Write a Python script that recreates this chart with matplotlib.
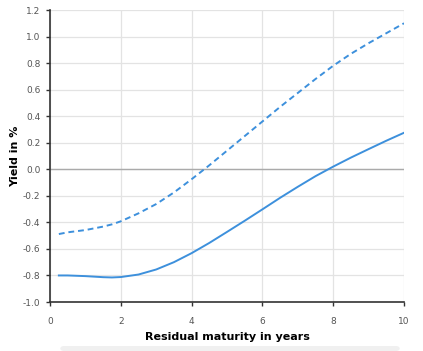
import numpy as np
import matplotlib.pyplot as plt
from matplotlib.patches import FancyBboxPatch

# Restlaufzeit (Jahre) und Renditen (%)
laufzeit = [0.25, 0.5, 1.0, 1.5, 1.75, 2.0, 2.5, 3.0, 3.5, 4.0, 4.5, 5.0, 5.5, 6.0, 6.5, 7.0, 7.5, 8.0, 8.5, 9.0, 9.5, 10.0]
rendite_solid = [-0.800, -0.800, -0.805, -0.813, -0.815, -0.812, -0.793, -0.755, -0.700, -0.632, -0.555, -0.472, -0.388, -0.302, -0.215, -0.132, -0.052, 0.020, 0.088, 0.152, 0.215, 0.275]
rendite_dash = [-0.488, -0.475, -0.458, -0.432, -0.415, -0.392, -0.332, -0.262, -0.175, -0.075, 0.030, 0.140, 0.250, 0.360, 0.470, 0.575, 0.680, 0.780, 0.870, 0.950, 1.025, 1.100]

xticks = [0, 2, 4, 6, 8, 10]
yticks = [-1.0, -0.8, -0.6, -0.4, -0.2, 0.0, 0.2, 0.4, 0.6, 0.8, 1.0, 1.2]

farbe = '#3d90dc'
tick_farbe = '#555555'

fig = plt.figure(figsize=(4.23, 3.51), dpi=100)
ax = fig.add_axes([50 / 423, 49 / 351, 354 / 423, 292 / 351])

ax.plot(laufzeit, rendite_solid, color=farbe, lw=1.4)
ax.plot(laufzeit, rendite_dash, color=farbe, lw=1.4, ls=(0, (3, 2)))

ax.set_xlim(0, 10)
ax.set_ylim(-1.0, 1.2)
ax.set_xticks(xticks)
ax.set_xticklabels([str(t) for t in xticks])
ax.set_yticks(yticks)
ax.set_yticklabels([f'{t:.1f}' for t in yticks])

ax.grid(True, color='#e3e3e3', lw=0.9)
ax.set_axisbelow(True)
ax.axhline(0, color='#aaaaaa', lw=1.0, zorder=1)

for s in ['top', 'right']:
    ax.spines[s].set_visible(False)
for s in ['left', 'bottom']:
    ax.spines[s].set_color('#333333')
    ax.spines[s].set_linewidth(1.2)

ax.tick_params(axis='both', colors='#333333', labelcolor=tick_farbe, labelsize=6.5, length=3, width=1)
ax.tick_params(axis='y', pad=4)
ax.tick_params(axis='x', pad=8)

ax.set_xlabel('Residual maturity in years', fontsize=8, fontweight='bold', labelpad=4)
ax.set_ylabel('Yield in %', fontsize=8, fontweight='bold', labelpad=2)

# Scrollbalken unten
bar = FancyBboxPatch((60 / 423, 0), 340 / 423, 5 / 351, boxstyle='round,pad=0,rounding_size=0.01',
                     transform=fig.transFigure, facecolor='#f0f0f0', edgecolor='none')
fig.patches.append(bar)

fig.savefig('out.png', dpi=100)
